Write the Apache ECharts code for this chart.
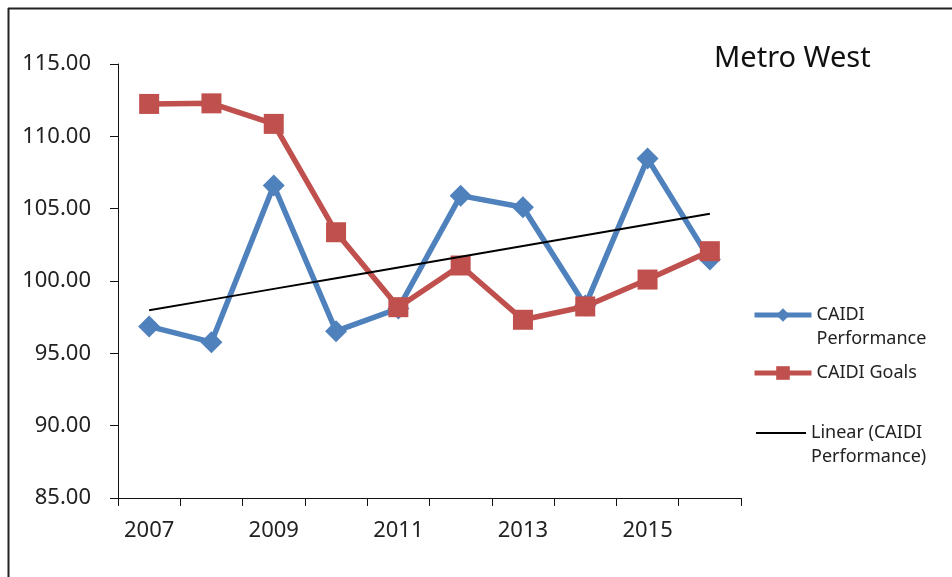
<!DOCTYPE html>
<html>
<head>
<meta charset="utf-8">
<script src="https://cdn.jsdelivr.net/npm/echarts@6/dist/echarts.min.js"></script>
<style>
  html, body { margin: 0; padding: 0; background: #fff; }
  #chart { width: 952px; height: 577px; }
</style>
</head>
<body>
<div id="chart"></div>
<script>
// Years on the category axis
const years = ['2007', '2008', '2009', '2010', '2011', '2012', '2013', '2014', '2015', '2016'];
// CAIDI performance (minutes)
const performance = [96.86, 95.77, 106.60, 96.53, 98.10, 105.90, 105.10, 98.30, 108.46, 101.48];
// CAIDI goals (minutes)
const goals = [112.24, 112.28, 110.86, 103.37, 98.19, 101.07, 97.32, 98.24, 100.10, 102.06];
// Value-axis range
const yMin = 85, yMax = 115, yStep = 5;

// Least-squares trend of the performance series
function linearTrend(values) {
  const n = values.length;
  let sx = 0, sy = 0, sxx = 0, sxy = 0;
  values.forEach((v, i) => { const x = i + 1; sx += x; sy += v; sxx += x * x; sxy += x * v; });
  const slope = (n * sxy - sx * sy) / (n * sxx - sx * sx);
  const icept = (sy - slope * sx) / n;
  return values.map((_, i) => +(icept + slope * (i + 1)).toFixed(3));
}
const trend = linearTrend(performance);

const BLUE = '#4F81BD', RED = '#C0504D', TEXT = '#222';
const FONT = 'Noto Sans';

// Two-line legend labels carry a leading empty line so the first
// text line sits level with the legend icon.
const wrapped = {
  'CAIDI Performance': '\nCAIDI\nPerformance',
  'CAIDI Goals': 'CAIDI Goals',
  'Linear (CAIDI Performance)': '\nLinear (CAIDI\nPerformance)'
};

function legendFor(name, left, top, width, lineW, hideSymbol) {
  return {
    data: [name],
    left: left, top: top,
    orient: 'vertical',
    itemWidth: width, itemHeight: 17,
    padding: 0,
    formatter: n => wrapped[n],
    lineStyle: { width: lineW },
    itemStyle: hideSymbol ? { opacity: 0 } : {},
    textStyle: { fontFamily: FONT, fontSize: 18, color: TEXT, lineHeight: 24 }
  };
}

const chart = echarts.init(document.getElementById('chart'), null, { renderer: 'canvas' });
chart.setOption({
  animation: false,
  backgroundColor: '#fff',
  title: {
    text: 'Metro West',
    left: 714, top: 44,
    padding: 0,
    textStyle: { fontFamily: FONT, fontSize: 29, fontWeight: 'normal', color: '#111' }
  },
  grid: { left: 118, right: 211, top: 64, bottom: 79 },
  legend: [
    legendFor('CAIDI Performance', 752, 279, 57, 5, false),
    legendFor('CAIDI Goals', 752, 361, 57, 5, false),
    legendFor('Linear (CAIDI Performance)', 755, 397, 50, 2, true)
  ],
  xAxis: {
    type: 'category',
    data: years,
    boundaryGap: true,
    axisLine: { lineStyle: { color: '#111', width: 1 } },
    axisTick: { show: true, interval: 0, length: 8, lineStyle: { color: '#111' } },
    axisLabel: { interval: 1, margin: 22, fontFamily: FONT, fontSize: 22, color: TEXT }
  },
  yAxis: {
    type: 'value',
    min: yMin, max: yMax, interval: yStep,
    axisLine: { show: true, lineStyle: { color: '#111', width: 1 } },
    axisTick: { show: true, length: 8, lineStyle: { color: '#111' } },
    splitLine: { show: false },
    axisLabel: {
      margin: 27, fontFamily: FONT, fontSize: 22, color: TEXT,
      formatter: v => v.toFixed(2)
    }
  },
  series: [
    {
      name: 'CAIDI Performance', type: 'line', data: performance,
      symbol: 'diamond', symbolSize: 22,
      lineStyle: { color: BLUE, width: 5.5 },
      itemStyle: { color: BLUE },
      z: 2
    },
    {
      name: 'CAIDI Goals', type: 'line', data: goals,
      symbol: 'rect', symbolSize: 20,
      lineStyle: { color: RED, width: 5.5 },
      itemStyle: { color: RED },
      z: 3
    },
    {
      name: 'Linear (CAIDI Performance)', type: 'line', data: trend,
      symbol: 'none',
      lineStyle: { color: '#000', width: 2 },
      itemStyle: { color: '#000' },
      z: 4
    }
  ],
  graphic: [
    { type: 'line', shape: { x1: 8, y1: 8.5, x2: 952, y2: 8.5 }, style: { stroke: '#222', lineWidth: 2 } },
    { type: 'line', shape: { x1: 8.5, y1: 8, x2: 8.5, y2: 577 }, style: { stroke: '#222', lineWidth: 2 } }
  ]
});
</script>
</body>
</html>
